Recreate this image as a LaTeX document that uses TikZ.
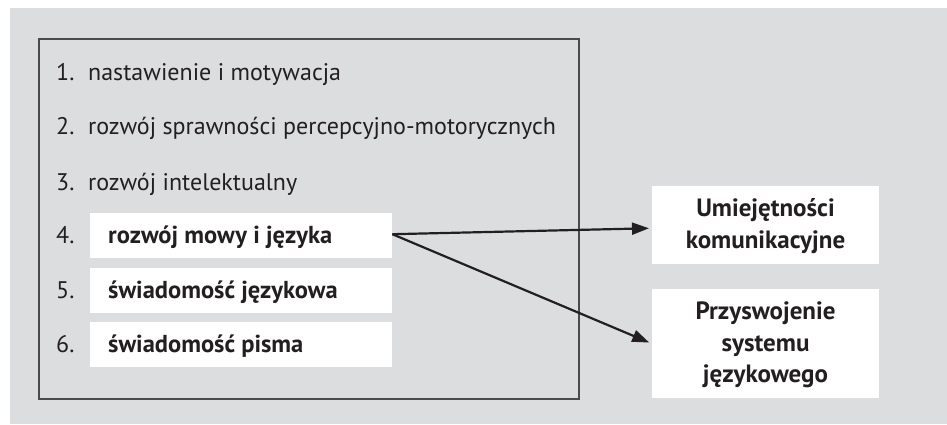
\documentclass[tikz,border=0pt]{standalone}
\usepackage{fontspec}
\setmainfont{PT Sans}
\usetikzlibrary{arrows.meta}
\definecolor{bggray}{HTML}{DCDDDF}
\definecolor{ink}{HTML}{231F20}
\definecolor{frame}{HTML}{4A4A4C}
\tikzset{
  plain/.style={anchor=base west, inner sep=0pt, text=ink, font=\fontsize{24}{28}\selectfont},
  boldt/.style={anchor=base west, inner sep=0pt, text=ink, font=\fontsize{24.5}{28}\selectfont\bfseries},
  whitebox/.style={fill=white, draw=none, anchor=north west, minimum width=302pt, minimum height=45pt, inner sep=0pt},
  rightbox/.style={fill=white, draw=none, anchor=north west, minimum width=227pt, inner sep=0pt},
  rtext/.style={anchor=base, inner sep=0pt, text=ink, font=\fontsize{25}{29}\selectfont\bfseries},
  arr/.style={draw=ink, line width=2.2pt, -{Triangle[length=17pt,width=12pt]}, shorten >=3pt}
}
\begin{document}
\begin{tikzpicture}[x=1pt,y=-1pt]
\useasboundingbox (0,0) rectangle (947,424);
\fill[bggray] (10,8) rectangle (947,424);
\node[draw=frame, line width=2pt, anchor=north west, minimum width=540pt, minimum height=360pt, inner sep=0pt] (frame) at (38,38) {};
% left rows
\node[plain] (n1) at (56,80) {1.};
\node[plain] (t1) at (88,80) {nastawienie i motywacja};
\node[plain] (n2) at (56,134) {2.};
\node[plain] (t2) at (88,134) {rozwój sprawności percepcyjno-motorycznych};
\node[plain] (n3) at (56,190) {3.};
\node[plain] (t3) at (88,190) {rozwój intelektualny};
\node[whitebox] (b4) at (90,213) {};
\node[whitebox] (b5) at (90,268) {};
\node[whitebox] (b6) at (90,322) {};
\node[plain] (n4) at (56,243) {4.};
\node[boldt] (t4) at (108,243) {rozwój mowy i języka};
\node[plain] (n5) at (56,298) {5.};
\node[boldt] (t5) at (108,298) {świadomość językowa};
\node[plain] (n6) at (56,352) {6.};
\node[boldt] (t6) at (108,352) {świadomość pisma};
% right boxes
\node[rightbox, minimum height=78pt] (r1) at (652,186) {};
\node[rightbox, minimum height=109pt] (r2) at (652,289) {};
\node[rtext] (r1a) at (765.5,216) {Umiejętności};
\node[rtext] (r1b) at (765.5,248) {komunikacyjne};
\node[rtext] (r2a) at (765.5,319) {Przyswojenie};
\node[rtext] (r2b) at (765.5,351) {systemu};
\node[rtext] (r2c) at (765.5,382) {językowego};
% arrows
\draw[arr] ([yshift=1.5pt]b4.east) -- ([yshift=-3pt]r1.west);
\draw[arr] ([yshift=1.5pt]b4.east) -- (r2.west);
\end{tikzpicture}
\end{document}
